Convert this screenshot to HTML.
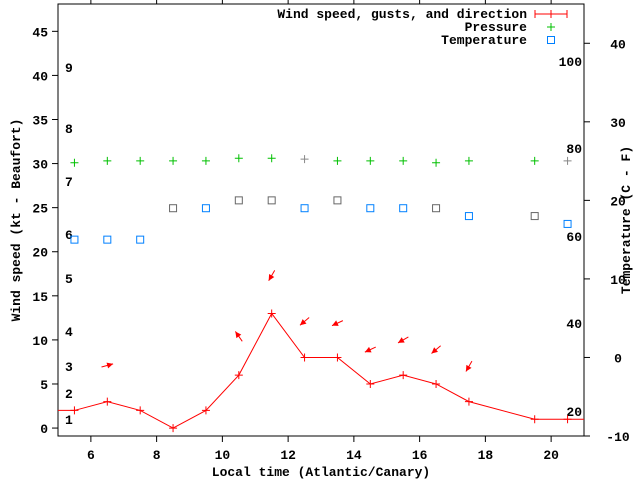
<!DOCTYPE html>
<html><head><meta charset="utf-8"><style>
body{margin:0;background:#fff}
svg text{font-family:"Liberation Mono","DejaVu Sans Mono",monospace;font-weight:bold;font-size:13px}
</style></head><body>
<svg id="chart" width="640" height="480" xmlns="http://www.w3.org/2000/svg"></svg>
<script>
const hours=[4.5,5.5,6.5,7.5,8.5,9.5,10.5,11.5,12.5,13.5,14.5,15.5,16.5,17.5,19.5,20.5,21.5];
const windSpeed=[2,2,3,2,0,2,6,13,8,8,5,6,5,3,1,1,1];
const pressHours=[5.5,6.5,7.5,8.5,9.5,10.5,11.5,12.5,13.5,14.5,15.5,16.5,17.5,19.5,20.5];
const pressure=[30.1,30.3,30.3,30.3,30.3,30.6,30.6,30.5,30.3,30.3,30.3,30.1,30.3,30.3,30.3];
const pressGray=[0,0,0,0,0,0,0,1,0,0,0,0,0,0,1];
const tempHours=[5.5,6.5,7.5,8.5,9.5,10.5,11.5,12.5,13.5,14.5,15.5,16.5,17.5,19.5,20.5];
const temperature=[15,15,15,19,19,20,20,19,20,19,19,19,18,18,17];
const tempGray=[0,0,0,1,0,1,1,0,1,0,0,1,0,1,0];
const arrowHours=[6.5,10.5,11.5,12.5,13.5,14.5,15.5,16.5,17.5];
const arrowY=[7.1,10.4,17.3,12.1,11.9,8.9,10.0,8.9,7.0];
const arrowAngle=[-15,-125,120,140,155,155,150,140,120];
const xTicks=[6,8,10,12,14,16,18,20];
const yTicks=[0,5,10,15,20,25,30,35,40,45];
const y2Ticks=[-10,0,10,20,30,40];
const beaufort=[[1,419],[2,393],[3,366],[4,331],[5,278],[6,234],[7,181],[8,128],[9,67]];
const fahr=[["20",411],["40",323],["60",236],["80",148],["100",61]];

const L=58,R=584,T=4,B=436;
const X=v=>L+(v-5)/16*(R-L);
const Y=v=>B-(v+0.9)/49*(B-T);
const Y2=v=>B-(v+10)/55*(B-T);
const svg=document.getElementById('chart');
const NS='http://www.w3.org/2000/svg';
function mk(tag,attrs,parent){const e=document.createElementNS(NS,tag);for(const k in attrs)e.setAttribute(k,attrs[k]);(parent||svg).appendChild(e);return e;}
function txt(x,y,s,anchor,name,parent){const t=mk('text',{x:x,y:y,'text-anchor':anchor||'start'},parent);t.textContent=s;return t;}

mk('defs',{}).innerHTML='<clipPath id="pc"><rect x="58" y="4" width="526" height="432"/></clipPath>';
const frame=mk('rect',{x:L,y:T,width:R-L,height:B-T,fill:'none',stroke:'#000'});



xTicks.forEach(v=>{
  mk('line',{x1:X(v),x2:X(v),y1:B,y2:B+6,stroke:'#000'});
  mk('line',{x1:X(v),x2:X(v),y1:T,y2:T-4,stroke:'#000'});
  txt(X(v),459,String(v),'middle','x-tick-label');
});
yTicks.forEach(v=>{
  mk('line',{x1:L-6,x2:L,y1:Y(v),y2:Y(v),stroke:'#000'});
  txt(L-10,Y(v)+5,String(v),'end','y-tick-label');
});
y2Ticks.forEach(v=>{
  mk('line',{x1:R,x2:R+6,y1:Y2(v),y2:Y2(v),stroke:'#000'});
  txt(R+34,Y2(v)+5,String(v),'middle','y2-tick-label');
});
beaufort.forEach(b=>txt(65,b[1]+5,String(b[0]),'start','beaufort-label'));
fahr.forEach(f=>txt(582,f[1]+5,f[0],'end','fahrenheit-label'));

txt(321,476,'Local time (Atlantic/Canary)','middle','x-axis-title');
const yt=txt(0,0,'Wind speed (kt - Beaufort)','middle','y-axis-title');yt.setAttribute('transform','translate(20,220) rotate(-90)');
const y2t=txt(0,0,'Temperature (C - F)','middle','y2-axis-title');y2t.setAttribute('transform','translate(630,220) rotate(-90)');

const g=mk('g',{'clip-path':'url(#pc)'});



pressHours.forEach((h,i)=>{
  const x=X(h),y=Y(pressure[i]),c=pressGray[i]?'#888':'#00c000';
  const p=mk('path',{d:`M${x-4} ${y}H${x+4}M${x} ${y-4}V${y+4}`,stroke:c,fill:'none'},g);
  
  
});
tempHours.forEach((h,i)=>{
  const x=X(h),y=Y2(temperature[i]),c=tempGray[i]?'#666':'#0080ff';
  const r=mk('rect',{x:x-3.5,y:y-3.5,width:7,height:7,fill:'none',stroke:c},g);
  
  
});
const line=mk('polyline',{points:hours.map((h,i)=>X(h)+','+Y(windSpeed[i])).join(' '),fill:'none',stroke:'#f00'},g);


hours.forEach((h,i)=>{
  const x=X(h),y=Y(windSpeed[i]);
  const p=mk('path',{d:`M${x-4} ${y}H${x+4}M${x} ${y-4}V${y+4}`,stroke:'#f00'},g);
  
  
});
arrowHours.forEach((h,i)=>{
  const cx=X(h),cy=Y(arrowY[i]),a=arrowAngle[i]*Math.PI/180;
  const dx=Math.cos(a),dy=Math.sin(a);
  const hx=cx+dx*6,hy=cy+dy*6,tx=cx-dx*6,ty=cy-dy*6;
  const px=-dy,py=dx;
  const ag=mk('g',{},g);
  
  
  mk('line',{x1:tx,y1:ty,x2:hx,y2:hy,stroke:'#f00'},ag);
  mk('polygon',{points:`${hx},${hy} ${hx-dx*6+px*3},${hy-dy*6+py*3} ${hx-dx*6-px*3},${hy-dy*6-py*3}`,fill:'#f00'},ag);
});

const lg=mk('g',{});


txt(527,18,'Wind speed, gusts, and direction','end','legend-wind-label',lg);
mk('path',{d:'M535 14H567M535 10V18M567 10V18M551 10V18',stroke:'#f00',fill:'none'},lg);
txt(527,31,'Pressure','end','legend-pressure-label',lg);
mk('path',{d:'M547 27H555M551 23V31',stroke:'#00c000',fill:'none'},lg);
txt(527,44,'Temperature','end','legend-temperature-label',lg);
mk('rect',{x:547.5,y:36.5,width:7,height:7,fill:'none',stroke:'#0080ff'},lg);
</script>
</body></html>
